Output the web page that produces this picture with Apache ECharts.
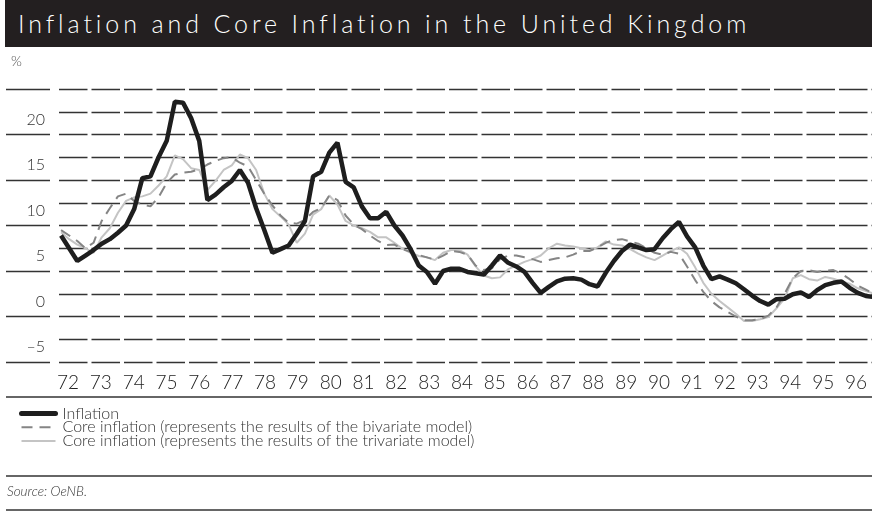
<!DOCTYPE html>
<html>
<head>
<meta charset="utf-8">
<script src="https://cdn.jsdelivr.net/npm/echarts@6/dist/echarts.min.js"></script>
<style>
  html, body { margin: 0; padding: 0; background: #fff; }
  #wrap { position: relative; width: 872px; height: 511px; }
  #chart { position: absolute; left: 0; top: 0; width: 872px; height: 511px; }
  #title {
    position: absolute; left: 5px; top: 0; width: 867px; height: 47px;
    background: #231f20; color: #fff; box-sizing: border-box; padding-left: 13px;
    font-family: Lato, "Noto Sans", sans-serif; font-weight: 300; font-size: 25px;
    line-height: 47px; letter-spacing: 3.9px; white-space: nowrap;
  }
</style>
</head>
<body>
<div id="wrap">
  <div id="chart"></div>
  <div id="title">Inflation and Core Inflation in the United Kingdom</div>
</div>
<script>
  // quarterly values from 1972 Q1 (last value sits on the right edge)
  var startYear = 1972
  var xLabels = ['72', '73', '74', '75', '76', '77', '78', '79', '80', '81', '82', '83', '84',
    '85', '86', '87', '88', '89', '90', '91', '92', '93', '94', '95', '96']
  var yLabelValues = [-5, 0, 5, 10, 15, 20]
  var yLabelTexts = ['–5', '0', '5', '10', '15', '20']

  var inflation = [
    6.4, 5.0, 3.6, 4.2, 4.8, 5.5, 6.0, 6.7, 7.5, 9.3,
    12.7, 12.9, 15.0, 16.8, 21.1, 21.0, 19.3, 16.8, 10.3, 10.9,
    11.7, 12.4, 13.6, 12.2, 9.4, 7.0, 4.5, 4.9, 5.3, 6.6,
    8.0, 12.9, 13.4, 15.5, 16.6, 12.3, 11.7, 9.6, 8.3, 8.3,
    9.0, 7.5, 6.4, 4.9, 3.1, 2.4, 1.1, 2.5, 2.75, 2.75,
    2.4, 2.25, 2.1, 3.1, 4.2, 3.4, 3.0, 2.4, 1.2, 0.1,
    0.75, 1.35, 1.65, 1.7, 1.55, 1.05, 0.8, 2.3, 3.6, 4.7,
    5.4, 5.1, 4.8, 4.9, 6.1, 7.1, 7.9, 6.3, 5.1, 3.1,
    1.6, 1.9, 1.55, 1.15, 0.5, -0.2, -0.8, -1.2, -0.6, -0.55,
    -0.05, 0.15, -0.35, 0.4, 0.95, 1.2, 1.35, 0.65, 0.1, -0.25,
    -0.35
  ]
  var coreBivariate = [
    7.0, 6.4, 5.8, 5.0, 5.6, 8.0, 9.4, 10.7, 11.0, 10.2,
    9.8, 9.6, 10.6, 12.2, 13.1, 13.3, 13.4, 13.7, 14.2, 14.6,
    14.9, 15.0, 14.4, 14.0, 12.5, 11.0, 9.7, 8.6, 7.8, 7.7,
    8.1, 9.0, 9.4, 10.8, 10.3, 8.6, 7.6, 7.1, 6.4, 5.8,
    5.35, 5.4, 4.9, 4.6, 4.25, 4.0, 3.75, 4.2, 4.7, 4.6,
    4.3, 3.1, 2.6, 2.8, 3.8, 4.2, 4.2, 4.0, 3.8, 3.5,
    3.7, 3.9, 4.0, 4.3, 4.7, 4.7, 5.1, 5.6, 5.9, 6.0,
    5.75, 5.5, 5.0, 4.5, 4.3, 4.6, 4.4, 3.0, 1.5, 0.2,
    -0.8, -1.5, -2.0, -2.5, -2.9, -2.9, -2.8, -2.4, -1.5, 0.0,
    1.7, 2.5, 2.6, 2.4, 2.55, 2.6, 2.2, 1.6, 0.9, 0.45,
    0.0
  ]
  var coreTrivariate = [
    6.75, 6.0, 5.4, 5.0, 4.5, 6.2, 7.2, 8.9, 10.2, 10.6,
    10.7, 11.0, 11.9, 12.9, 15.2, 14.8, 13.8, 13.6, 11.4, 12.4,
    13.6, 14.1, 15.3, 14.9, 13.6, 11.0, 9.3, 8.5, 7.6, 5.6,
    6.6, 8.7, 9.3, 10.8, 9.8, 8.0, 7.5, 7.2, 6.8, 6.2,
    6.2, 5.6, 4.95, 4.5, 4.15, 4.0, 3.7, 4.5, 4.8, 4.8,
    4.3, 3.0, 2.0, 1.7, 1.8, 2.7, 3.1, 3.5, 3.8, 4.2,
    5.0, 5.5, 5.3, 5.2, 5.0, 4.8, 5.1, 5.75, 5.4, 5.3,
    4.9, 4.4, 4.0, 3.7, 4.2, 4.7, 5.1, 4.4, 2.9, 1.2,
    0.0, -0.8, -1.5, -2.2, -3.0, -3.0, -2.8, -2.55, -1.6, -0.5,
    1.7, 2.05, 1.6, 1.45, 1.85, 1.65, 1.35, 1.1, 0.6, 0.3,
    0.0
  ]

  var names = [
    'Inflation',
    'Core inflation (represents the results of the bivariate model)',
    'Core inflation (represents the results of the trivariate model)'
  ]

  var FONT = 'Lato, "Noto Sans", sans-serif'
  var GRID_COLOR = '#333'
  var BLACK = '#1e1e1e', DARK_GREY = '#858585', LIGHT_GREY = '#c4c4c4'

  function toPoints(arr) {
    return arr.map(function (v, i) {
      return [startYear + (i + 0.25) / 4, v]
    })
  }

  var chart = echarts.init(document.getElementById('chart'))

  chart.setOption({
    animation: false,
    grid: [
      {left: 59, right: 0, top: 89, bottom: 149},
      // short solid stubs left of the labels
      {left: 6, width: 44, top: 89, bottom: 149},
      // year labels are set a little wider than the plot years
      {left: 68, right: 16, top: 89, bottom: 149}
    ],
    xAxis: [
      {
        type: 'value',
        min: startYear,
        max: startYear + xLabels.length,
        axisLine: {show: false},
        axisTick: {show: false},
        splitLine: {show: false},
        axisLabel: {show: false}
      },
      {gridIndex: 1, type: 'value', min: 0, max: 1, show: false},
      {
        gridIndex: 2,
        type: 'value',
        min: startYear,
        max: startYear + xLabels.length - 1,
        interval: 1,
        axisLine: {show: false},
        axisTick: {show: false},
        splitLine: {show: false},
        axisLabel: {
          margin: 11,
          fontSize: 19,
          fontFamily: FONT,
          fontWeight: 300,
          color: '#222',
          showMinLabel: true,
          showMaxLabel: true,
          formatter: function (v) {
            return xLabels[Math.round(v - startYear)] || ''
          }
        }
      }
    ],
    yAxis: [
      {
        type: 'value',
        min: -7.5,
        max: 22.5,
        interval: 2.5,
        axisLine: {show: false},
        axisTick: {show: false},
        splitLine: {
          lineStyle: {color: GRID_COLOR, width: 1.3, type: [28.5, 4]}
        },
        axisLabel: {
          margin: 14,
          verticalAlign: 'top',
          fontSize: 16,
          fontFamily: FONT,
          fontWeight: 300,
          color: '#333',
          formatter: function (v) {
            var k = yLabelValues.indexOf(v)
            return k >= 0 ? yLabelTexts[k] : ''
          }
        }
      },
      {
        gridIndex: 1,
        type: 'value',
        min: 0,
        max: 30,
        interval: 5,
        axisLine: {show: false},
        axisTick: {show: false},
        axisLabel: {show: false},
        splitLine: {lineStyle: {color: GRID_COLOR, width: 1.3}}
      },
      {gridIndex: 2, type: 'value', min: 0, max: 1, show: false}
    ],
    legend: {
      orient: 'vertical',
      left: 19,
      top: 405.5,
      padding: 0,
      itemWidth: 34,
      itemHeight: 13,
      itemGap: -2.3,
      selectedMode: false,
      itemStyle: {opacity: 0},
      data: [
        {name: names[0], lineStyle: {width: 5, cap: 'round'}},
        {name: names[1], lineStyle: {width: 2}},
        {name: names[2], lineStyle: {width: 2}}
      ],
      textStyle: {
        fontSize: 16,
        fontFamily: FONT,
        fontWeight: 300,
        color: '#333',
        padding: [0, 0, 0, 2]
      }
    },
    graphic: [
      {type: 'text', left: 11, top: 54, style: {text: '%', font: '300 14px Lato', fill: '#555'}},
      {type: 'line', shape: {x1: 6, y1: 397, x2: 872, y2: 397}, style: {stroke: '#333', lineWidth: 1.3}},
      {type: 'line', shape: {x1: 6, y1: 476, x2: 872, y2: 476}, style: {stroke: '#333', lineWidth: 1.3}},
      {type: 'line', shape: {x1: 6, y1: 510, x2: 872, y2: 510}, style: {stroke: '#333', lineWidth: 1.3}},
      {type: 'text', left: 7, top: 485, style: {text: 'Source: OeNB.', font: 'italic 300 13.5px Lato', fill: '#333'}}
    ],
    series: [
      {
        name: names[2],
        type: 'line',
        data: toPoints(coreTrivariate),
        symbol: 'none',
        lineStyle: {color: LIGHT_GREY, width: 2},
        itemStyle: {color: LIGHT_GREY}
      },
      {
        name: names[1],
        type: 'line',
        data: toPoints(coreBivariate),
        symbol: 'none',
        lineStyle: {color: DARK_GREY, width: 2, type: [11, 7]},
        itemStyle: {color: DARK_GREY}
      },
      {
        name: names[0],
        type: 'line',
        data: toPoints(inflation),
        symbol: 'none',
        lineStyle: {color: BLACK, width: 4.5},
        itemStyle: {color: BLACK}
      }
    ]
  })
</script>
</body>
</html>
